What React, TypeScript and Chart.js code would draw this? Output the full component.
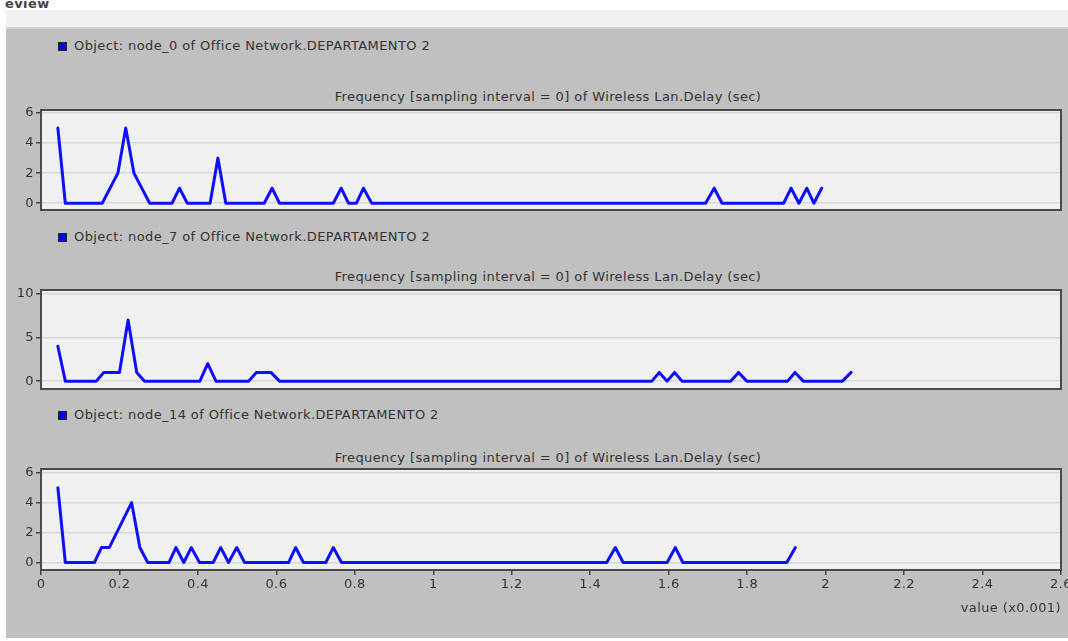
import React, { useEffect, useRef } from "react";
import { Chart, registerables } from "chart.js";

Chart.register(...registerables);

// ---------- data ----------
const xTicks = [0, 0.2, 0.4, 0.6, 0.8, 1, 1.2, 1.4, 1.6, 1.8, 2, 2.2, 2.4, 2.6];
const yTicksSix = [0, 2, 4, 6];
const yTicksTen = [0, 5, 10];

const node0X = [0.043, 0.062, 0.156, 0.196, 0.216, 0.237, 0.277, 0.334, 0.353, 0.373, 0.431, 0.451, 0.471, 0.569, 0.589, 0.608, 0.745, 0.765, 0.784, 0.804, 0.822, 0.843, 1.694, 1.716, 1.736, 1.893, 1.912, 1.932, 1.952, 1.97, 1.99];
const node0Y = [5, 0, 0, 2, 5, 2, 0, 0, 1, 0, 0, 3, 0, 0, 1, 0, 0, 1, 0, 0, 1, 0, 0, 1, 0, 0, 1, 0, 1, 0, 1];

const node7X = [0.043, 0.062, 0.141, 0.16, 0.2, 0.222, 0.244, 0.264, 0.405, 0.425, 0.446, 0.529, 0.549, 0.586, 0.608, 1.557, 1.576, 1.596, 1.615, 1.634, 1.758, 1.778, 1.799, 1.903, 1.922, 1.943, 2.043, 2.065];
const node7Y = [4, 0, 0, 1, 1, 7, 1, 0, 0, 2, 0, 0, 1, 1, 0, 0, 1, 0, 1, 0, 0, 1, 0, 0, 1, 0, 0, 1];

const node14X = [0.043, 0.062, 0.136, 0.154, 0.174, 0.231, 0.252, 0.272, 0.326, 0.344, 0.364, 0.383, 0.404, 0.439, 0.458, 0.478, 0.499, 0.519, 0.631, 0.649, 0.669, 0.726, 0.745, 0.766, 1.442, 1.464, 1.484, 1.596, 1.617, 1.636, 1.901, 1.923];
const node14Y = [5, 0, 0, 1, 1, 4, 1, 0, 0, 1, 0, 1, 0, 0, 1, 0, 1, 0, 0, 1, 0, 0, 1, 0, 0, 1, 0, 0, 1, 0, 0, 1];

const headerTexts = [
  "Object: node_0 of Office Network.DEPARTAMENTO 2",
  "Object: node_7 of Office Network.DEPARTAMENTO 2",
  "Object: node_14 of Office Network.DEPARTAMENTO 2",
];
const plotTitle = "Frequency [sampling interval = 0] of Wireless Lan.Delay (sec)";
const xTitle = "value (x0.001)";
const topText = "eview";

// ---------- styling ----------
const FONT = "'DejaVu Sans', Verdana, sans-serif";
const TEXT = "#333333";
const LINE = "#1010f8";
const CANVAS_W = 1090;

const boxPlugin = {
  id: "plotBox",
  beforeDraw(chart: any) {
    const { ctx, chartArea } = chart;
    const { left, top, right, bottom } = chartArea;
    ctx.save();
    ctx.fillStyle = "#f0f0f0";
    ctx.fillRect(left, top, right - left, bottom - top);
    ctx.restore();
  },
  afterDraw(chart: any) {
    const { ctx, chartArea } = chart;
    const { left, top, right, bottom } = chartArea;
    ctx.save();
    ctx.strokeStyle = "#4a4a4a";
    ctx.lineWidth = 2;
    ctx.strokeRect(left, top, right - left, bottom - top);
    ctx.restore();
  },
};

type PanelProps = {
  xs: number[];
  ys: number[];
  yTicks: number[];
  yMin: number;
  yMax: number;
  areaTop: number;
  areaH: number;
  showX: boolean;
};

function Panel({ xs, ys, yTicks, yMin, yMax, areaTop, areaH, showX }: PanelProps) {
  const ref = useRef<HTMLCanvasElement | null>(null);
  const padTop = 10;
  const axisH = 50;
  const h = padTop + areaH + (showX ? axisH : 10);

  useEffect(() => {
    if (!ref.current) return;
    const font = { family: FONT, size: 13 };
    const chart = new Chart(ref.current, {
      type: "line",
      data: {
        datasets: [
          {
            data: xs.map((x, i) => ({ x, y: ys[i] })),
            borderColor: LINE,
            borderWidth: 3,
            pointRadius: 0,
            tension: 0,
            fill: false,
            borderJoinStyle: "round",
            borderCapStyle: "round",
          },
        ],
      },
      options: {
        responsive: false,
        animation: false,
        devicePixelRatio: 1,
        layout: {
          padding: { left: 8, right: CANVAS_W - 1061, top: padTop, bottom: showX ? 0 : 10 },
        },
        plugins: {
          legend: { display: false },
          title: { display: false },
          tooltip: { enabled: false },
        },
        scales: {
          x: {
            type: "linear",
            min: 0,
            max: 2.6,
            display: showX,
            afterBuildTicks: (s: any) => {
              s.ticks = xTicks.map((v) => ({ value: v }));
            },
            afterFit: (s: any) => {
              s.height = showX ? axisH : 0;
            },
            grid: { drawOnChartArea: false, drawTicks: true, tickLength: 5, tickColor: "#444", lineWidth: 1.5 },
            border: { display: false },
            ticks: {
              color: TEXT,
              font,
              padding: 2,
              maxRotation: 0,
              autoSkip: false,
              callback: (v: any) => String(Math.round(Number(v) * 10) / 10),
            },
            title: {
              display: true,
              text: xTitle,
              align: "end",
              color: TEXT,
              font,
              padding: { top: 0, bottom: 4 },
            },
          },
          y: {
            type: "linear",
            min: yMin,
            max: yMax,
            afterBuildTicks: (s: any) => {
              s.ticks = yTicks.map((v) => ({ value: v }));
            },
            afterFit: (s: any) => {
              s.width = 33;
            },
            grid: { color: "#d8d8d8", lineWidth: 1.5, drawTicks: true, tickLength: 5, tickColor: "#444" },
            border: { display: false },
            ticks: { color: TEXT, font, padding: 2 },
          },
        },
      },
      plugins: [boxPlugin],
    } as any);
    return () => chart.destroy();
  }, []);

  return (
    <canvas
      ref={ref}
      width={CANVAS_W}
      height={h}
      style={{ position: "absolute", left: 0, top: areaTop - padTop, width: CANVAS_W, height: h }}
    />
  );
}

function Header({ text, y }: { text: string; y: number }) {
  return (
    <>
      <div
        style={{
          position: "absolute",
          left: 58,
          top: y - 4,
          width: 9,
          height: 9,
          background: "#0000ff",
          border: "1px solid #222",
          boxSizing: "border-box",
        }}
      />
      <div style={{ position: "absolute", left: 74, top: y - 8, lineHeight: "16px", whiteSpace: "nowrap" }}>{text}</div>
    </>
  );
}

function PlotTitle({ y }: { y: number }) {
  return (
    <div
      style={{
        position: "absolute",
        left: 0,
        width: 1096,
        top: y - 8,
        lineHeight: "16px",
        textAlign: "center",
        whiteSpace: "nowrap",
      }}
    >
      {plotTitle}
    </div>
  );
}

export default function App() {
  return (
    <div
      style={{
        position: "fixed",
        left: 0,
        top: 0,
        width: 1068,
        height: 641,
        overflow: "hidden",
        background: "#ffffff",
        fontFamily: FONT,
        fontSize: 13,
        color: TEXT,
        letterSpacing: "0.4px",
      }}
    >
      <div style={{ position: "absolute", left: 6, top: 10, width: 1062, height: 17, background: "#f1f1f1" }} />
      <div style={{ position: "absolute", left: 6, top: 27, width: 1062, height: 2, background: "#d6d6d6" }} />
      <div style={{ position: "absolute", left: 6, top: 29, width: 1062, height: 609, background: "#c0c0c0" }} />
      <div style={{ position: "absolute", left: 5, top: -4, fontSize: 13, fontWeight: "bold", color: "#444", lineHeight: "16px" }}>
        {topText}
      </div>

      <Header text={headerTexts[0]} y={46} />
      <PlotTitle y={97} />
      <Header text={headerTexts[1]} y={237} />
      <PlotTitle y={277} />
      <Header text={headerTexts[2]} y={415} />
      <PlotTitle y={458} />

      <Panel xs={node0X} ys={node0Y} yTicks={yTicksSix} yMin={-0.45} yMax={6.2} areaTop={110} areaH={100} showX={false} />
      <Panel xs={node7X} ys={node7Y} yTicks={yTicksTen} yMin={-0.9} yMax={10.45} areaTop={290} areaH={99} showX={false} />
      <Panel xs={node14X} ys={node14Y} yTicks={yTicksSix} yMin={-0.5} yMax={6.25} areaTop={469} areaH={101} showX={true} />
    </div>
  );
}
